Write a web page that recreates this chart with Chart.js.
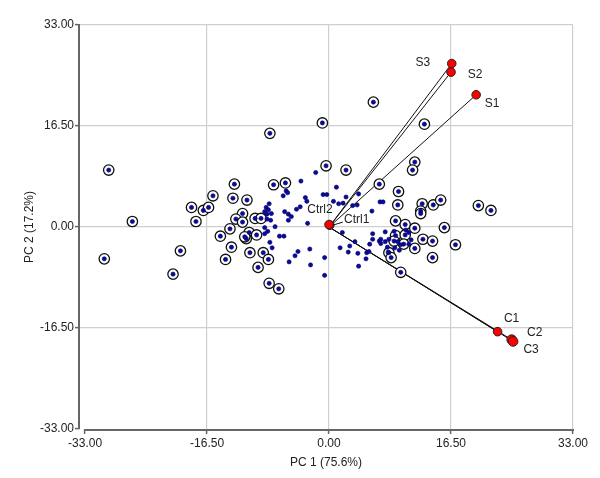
<!DOCTYPE html>
<html>
<head>
<meta charset="utf-8">
<script src="https://cdn.jsdelivr.net/npm/chart.js@4/dist/chart.umd.min.js"></script>
<style>
  html, body { margin: 0; padding: 0; background: #fff; }
  #wrap { width: 600px; height: 478px; position: relative; }
</style>
</head>
<body>
<div id="wrap"><canvas id="c"></canvas></div>
<script>
// ---- Data ----
const tickValues = [-33, -16.5, 0, 16.5, 33];
const xTitle = 'PC 1 (75.6%)';
const yTitle = 'PC 2 (17.2%)';

// scores shown as a dot inside a ring
const ringedPoints = [
  [-29.8, 9.3], [-26.6, 0.9], [-30.4, -5.2], [-0.9, 17.0], [-8.0, 15.3], [-0.4, 10.0],
  [-18.6, 3.2], [-17.0, 2.7], [-16.3, 3.2], [-15.7, 5.1], [-18.0, 0.9], [-12.8, 7.0],
  [-13.0, 4.7], [-11.1, 4.4], [-7.5, 6.9], [-5.9, 7.2], [-11.7, 2.2], [-12.6, 1.3],
  [-11.7, 0.8], [-10.0, 1.4], [-9.2, 1.4], [-13.4, -0.3], [-14.7, -1.5], [-10.8, -0.9],
  [-11.2, -1.9], [-11.4, -1.6], [-9.8, -1.3], [-13.2, -3.3], [-10.7, -4.2], [-8.9, -4.2],
  [-8.2, -5.3], [-14.0, -5.3], [-9.6, -6.6], [-8.1, -9.2], [-6.8, -10.1], [-20.1, -3.9],
  [-21.1, -7.7],
  [6.0, 20.4], [12.9, 16.8], [2.3, 9.3], [11.6, 10.6], [11.3, 9.3], [6.8, 7.0],
  [9.4, 5.8], [9.3, 3.6], [12.6, 3.8], [14.1, 3.6], [15.1, 4.4], [20.2, 3.5],
  [21.9, 2.7], [12.4, 2.6], [12.4, 2.2], [9.0, 1.0], [10.3, 0.4], [11.6, -0.2],
  [15.6, -0.1], [12.7, -2.0], [14.0, -2.3], [17.1, -2.9], [14.0, -5.0], [11.6, -3.5],
  [8.1, -4.2], [8.4, -5.0], [9.7, -7.4], [9.0, -1.4], [10.3, -1.3], [10.1, -2.8],
  [8.8, -2.3]
];

// scores shown as a plain dot
const plainPoints = [
  [-3.8, 7.5], [-1.8, 8.9], [-0.8, 5.3], [-0.3, 5.3], [-6.2, 5.1], [-5.8, 5.9],
  [-5.6, 5.6], [-3.2, 4.8], [-3.0, 4.2], [-4.4, 2.9], [-3.9, 3.3],
  [-8.1, 3.8], [-8.5, 3.2], [-8.2, 2.8], [-8.7, 2.5], [-7.8, 2.2], [-8.4, 2.1],
  [-8.4, 1.3], [-7.9, 1.1], [-6.0, 2.5], [-5.5, 2.1], [-5.1, 1.7], [-5.5, 1.1],
  [-2.9, 0.6], [-8.7, -0.1], [-7.3, 0.05], [-8.3, -0.7], [-8.7, -1.1],
  [-6.7, -1.5], [-6.1, -1.5], [-8.0, -2.5], [-7.7, -3.4],
  [-4.2, -4.0], [-4.6, -4.7], [-5.4, -5.7], [-2.6, -3.6], [-2.5, -6.2],
  [-0.6, -5.0], [-0.6, -7.9],
  [1.0, 6.5], [4.0, 5.4], [2.3, 4.9], [0.6, 4.2], [1.3, 3.8], [1.9, 3.9],
  [3.2, 3.5], [3.8, 3.6], [6.9, 4.1], [7.3, 4.1], [5.8, 2.6],
  [1.8, -0.9], [5.9, -1.1], [3.5, -2.4], [1.5, -3.4], [2.6, -4.1], [2.8, -3.1],
  [3.9, -4.3], [4.0, -6.4], [5.0, -5.2], [5.1, -4.2], [5.4, -4.0], [5.5, -2.8],
  [5.9, -2.0], [6.8, -2.3], [7.0, -2.0], [7.0, -2.7], [7.6, -0.8], [7.6, -2.4],
  [8.1, -2.0], [7.9, -3.3], [8.0, -4.1], [8.8, -0.7], [9.3, -2.4], [9.7, -2.9],
  [10.8, -0.9], [11.1, -2.1], [8.9, -3.4], [9.5, -3.8], [10.8, -2.8], [10.4, -0.5]
];

// loading vectors (red points)
const loadingNames = ['S1', 'S2', 'S3', 'C1', 'C2', 'C3', 'Ctrl1', 'Ctrl2'];
const loadingX = [19.9, 16.5, 16.6, 22.8, 24.7, 24.9, 0.1, 0.0];
const loadingY = [21.6, 25.3, 26.7, -17.1, -18.4, -18.7, 0.3, 0.4];
const vectorNames = ['S1', 'S2', 'S3', 'C1', 'C2', 'C3'];

// ---- styling (label offsets in pixels) ----
const labelOffset = {
  S1: [16, 9], S2: [24, 3], S3: [-29, -1],
  C1: [14, -13], C2: [23, -7], C3: [18, 8],
  Ctrl1: [27, -5], Ctrl2: [-9, -15]
};
const FONT = 'Liberation Sans, Arial, sans-serif';

const toXY = a => a.map(p => ({ x: p[0], y: p[1] }));

const datasets = [];
// vectors from origin
vectorNames.forEach(n => {
  const i = loadingNames.indexOf(n);
  datasets.push({
    data: [{ x: 0, y: 0 }, { x: loadingX[i], y: loadingY[i] }],
    showLine: true, borderColor: '#111', borderWidth: 1,
    pointRadius: 0, order: 10
  });
});
datasets.push({
  data: toXY(ringedPoints), pointRadius: 5.2, pointBackgroundColor: '#fff',
  pointBorderColor: '#111', pointBorderWidth: 1.3, order: 8
});
datasets.push({
  data: toXY(ringedPoints).concat(toXY(plainPoints)), pointRadius: 2.1,
  pointBackgroundColor: '#0a0aa0', pointBorderColor: '#000060', pointBorderWidth: 0.6, order: 6
});
datasets.push({
  data: loadingNames.map((n, i) => ({ x: loadingX[i], y: loadingY[i] })),
  pointRadius: loadingNames.map(n => (n === 'C2' || n === 'C3') ? 4.8 : 4.3),
  pointBackgroundColor: '#ff0000', pointBorderColor: '#222', pointBorderWidth: 1, order: 2
});

const annot = {
  id: 'annot',
  afterDraw(chart) {
    const { ctx, scales: { x, y }, chartArea } = chart;
    ctx.save();
    // detached bottom axis line
    ctx.strokeStyle = '#666'; ctx.lineWidth = 2;
    ctx.beginPath();
    ctx.moveTo(x.getPixelForValue(tickValues[0]), chartArea.bottom + 1);
    ctx.lineTo(x.getPixelForValue(tickValues[tickValues.length - 1]) + 1, chartArea.bottom + 1);
    ctx.stroke();
    // point labels
    ctx.fillStyle = '#222';
    ctx.font = '12px ' + FONT;
    ctx.textAlign = 'center'; ctx.textBaseline = 'middle';
    loadingNames.forEach((n, i) => {
      const px = x.getPixelForValue(loadingX[i]), py = y.getPixelForValue(loadingY[i]);
      const o = labelOffset[n];
      ctx.fillText(n, px + o[0], py + o[1]);
      if (n === 'Ctrl1') {
        ctx.strokeStyle = '#111'; ctx.lineWidth = 1;
        ctx.beginPath(); ctx.moveTo(px + 3, py); ctx.lineTo(px + 13, py - 3); ctx.stroke();
      }
    });
    ctx.restore();
  }
};

new Chart(document.getElementById('c'), {
  type: 'scatter',
  data: { datasets },
  plugins: [annot],
  options: {
    responsive: true, maintainAspectRatio: false, animation: false,
    layout: { padding: { left: 0, right: 27, top: 25, bottom: 0 } },
    plugins: { legend: { display: false }, tooltip: { enabled: false } },
    scales: {
      x: {
        type: 'linear', min: -33.82, max: 33,
        afterBuildTicks: s => { s.ticks = tickValues.map(v => ({ value: v })); },
        afterFit: s => { s.height = 49; },
        border: { display: false },
        grid: {
          color: c => (c.tick && c.tick.value === -33) ? 'rgba(0,0,0,0)' : '#cfcfcf',
          lineWidth: 1.2, tickColor: '#666', tickLength: 5, tickWidth: 1.5
        },
        ticks: { color: '#222', font: { family: FONT, size: 12 }, padding: 2,
                 maxRotation: 0, autoSkip: false, callback: v => Number(v).toFixed(2) },
        title: { display: true, text: xTitle, color: '#222', font: { family: FONT, size: 12 },
                 padding: { top: 0, bottom: 8 } }
      },
      y: {
        type: 'linear', min: -33, max: 33,
        afterBuildTicks: s => { s.ticks = tickValues.map(v => ({ value: v })); },
        afterFit: s => { s.width = 79; },
        border: { display: true, color: '#666', width: 2 },
        grid: {
          color: c => (c.tick && c.tick.value === -33) ? 'rgba(0,0,0,0)' : '#cfcfcf',
          lineWidth: 1.2, tickColor: '#666', tickLength: 4, tickWidth: 1.5
        },
        ticks: { color: '#222', font: { family: FONT, size: 12 }, padding: 1,
                 autoSkip: false, callback: v => Number(v).toFixed(2) },
        title: { display: true, text: yTitle, color: '#222', font: { family: FONT, size: 12 },
                 padding: { top: 22, bottom: 0 } }
      }
    }
  }
});
</script>
</body>
</html>
